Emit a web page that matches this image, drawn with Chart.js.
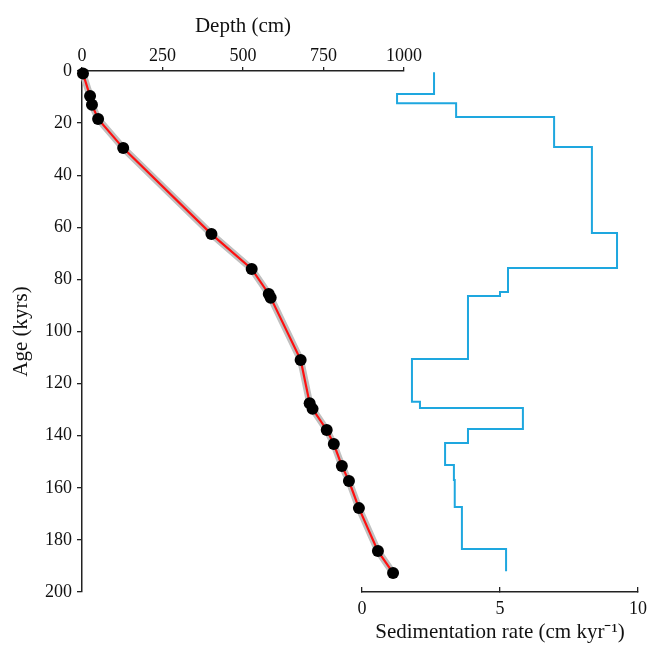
<!DOCTYPE html>
<html>
<head>
<meta charset="utf-8">
<script src="https://cdn.jsdelivr.net/npm/chart.js@4"></script>
<style>
  body { margin: 0; background: #fff; }
  #wrap { position: relative; width: 648px; height: 645px; }
  #wrap canvas { position: absolute; left: 0; top: 0; }
</style>
</head>
<body>
<div id="wrap">
  <canvas id="ageChart" width="648" height="645"></canvas>
  <canvas id="rateChart" width="648" height="645"></canvas>
</div>
<script>
// dated samples: depth (cm) and age (kyrs)
var depths = [3, 25, 31, 50, 128, 402, 527, 580, 586, 679, 707, 716, 760, 782, 807, 829, 860, 919, 966];
var ages = [1, 9.6, 13, 18.4, 29.6, 62.6, 76, 85.6, 87, 110.9, 127.5, 129.7, 137.8, 143.2, 151.6, 157.4, 167.8, 184.3, 192.7];

// sedimentation rate steps: age where each step starts (last one = end) and rate (cm/kyr)
var stepAges = [0.5, 8.8, 12.4, 17.7, 29.2, 62.2, 75.6, 84.8, 86.4, 110.6, 127, 129.4, 137.4, 142.8, 151.2, 157, 167.4, 183.5, 192];
var rates = [2.61, 1.27, 3.41, 6.96, 8.33, 9.24, 5.29, 5.0, 3.84, 1.81, 2.10, 5.83, 3.84, 3.01, 3.33, 3.36, 3.62, 5.22];

var ageTicks = [0, 20, 40, 60, 80, 100, 120, 140, 160, 180, 200];
var depthTicks = [0, 250, 500, 750, 1000];
var rateTicks = [0, 5, 10];

var serif = 'Liberation Serif';
var ink = '#111';

var modelPts = depths.map(function (d, i) { return { x: d, y: ages[i] }; });
var ratePts = rates.map(function (r, i) { return { x: r, y: stepAges[i] }; });
ratePts.push({ x: rates[rates.length - 1], y: stepAges[stepAges.length - 1] });

function fixTicks(list) {
    return function (scale) {
        scale.ticks = list.map(function (v) { return { value: v }; });
    };
}
function plain(v) { return String(v); }

var ageAxis = {
    type: 'linear', position: 'left', reverse: true, min: 0, max: 200,
    afterBuildTicks: fixTicks(ageTicks),
    afterFit: function (s) { s.width = 82; },
    grid: { drawOnChartArea: false, tickLength: 5, color: '#222', lineWidth: 1.3 },
    border: { color: '#222', width: 1.5 },
    ticks: { padding: 5, color: ink, font: { family: serif, size: 18 }, callback: plain },
    title: { display: true, text: 'Age (kyrs)', color: ink, padding: { top: 9 }, font: { family: serif, size: 21 } }
};

new Chart(document.getElementById('ageChart').getContext('2d'), {
    type: 'scatter',
    data: {
        datasets: [{
            data: modelPts, pointRadius: 6, pointBackgroundColor: '#000', pointBorderWidth: 0,
            showLine: false, clip: false, order: 0
        }, {
            data: modelPts, showLine: true, borderColor: '#ff1010', borderWidth: 2.2,
            pointRadius: 0, clip: false, order: 1
        }, {
            data: modelPts, showLine: true, borderColor: '#c0c0c0', borderWidth: 7,
            pointRadius: 0, clip: false, order: 2
        }]
    },
    options: {
        responsive: false, animation: false,
        layout: { padding: { left: 0, top: 0, right: 244, bottom: 53 } },
        plugins: { legend: { display: false }, tooltip: { enabled: false } },
        scales: {
            x: {
                type: 'linear', position: 'top', min: 0, max: 1000,
                afterBuildTicks: fixTicks(depthTicks),
                afterFit: function (s) { s.height = 71; s.paddingLeft = 0; s.paddingRight = 0; },
                grid: { drawOnChartArea: false, tickLength: 4, color: '#222', lineWidth: 1.3 },
                border: { color: '#222', width: 1.5 },
                ticks: { padding: 0, color: ink, font: { family: serif, size: 18 }, callback: plain },
                title: { display: true, text: 'Depth (cm)', color: ink, padding: { top: 14 }, font: { family: serif, size: 21 } }
            },
            y: ageAxis
        }
    }
});

new Chart(document.getElementById('rateChart').getContext('2d'), {
    type: 'scatter',
    data: {
        datasets: [{
            data: ratePts, showLine: true, stepped: 'after', borderColor: '#1ea7df', borderWidth: 2,
            pointRadius: 0, clip: false
        }]
    },
    options: {
        responsive: false, animation: false,
        layout: { padding: { left: 362, top: 71, right: 10, bottom: 0 } },
        plugins: { legend: { display: false }, tooltip: { enabled: false } },
        scales: {
            x: {
                type: 'linear', position: 'bottom', min: 0, max: 10,
                afterBuildTicks: fixTicks(rateTicks),
                afterFit: function (s) { s.height = 53; s.paddingLeft = 0; s.paddingRight = 0; },
                grid: { drawOnChartArea: false, tickLength: -5, color: '#222', lineWidth: 1.3 },
                border: { color: '#222', width: 1.5 },
                ticks: { padding: 11, color: ink, font: { family: serif, size: 18 }, callback: plain },
                title: { display: true, text: 'Sedimentation rate (cm kyr\u207B\u00B9)', color: ink, padding: { bottom: 0 }, font: { family: serif, size: 21 } }
            },
            y: { type: 'linear', display: false, reverse: true, min: 0, max: 200 }
        }
    }
});
</script>
</body>
</html>
